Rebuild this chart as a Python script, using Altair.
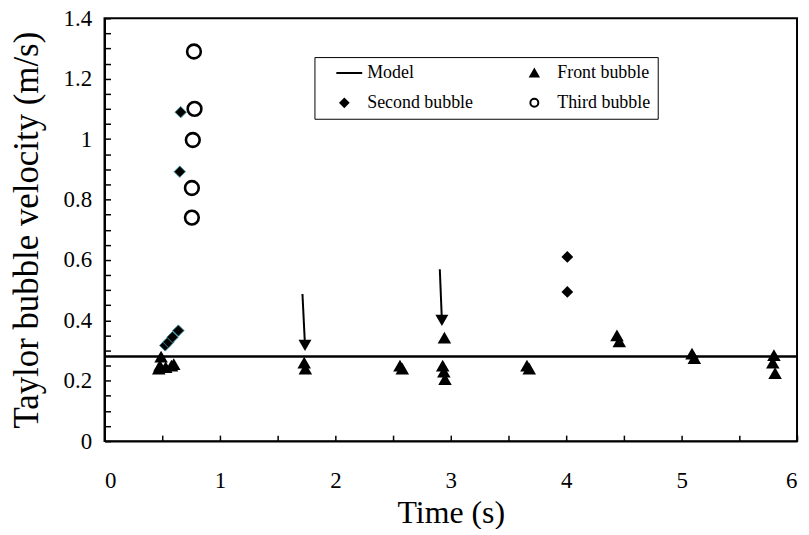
import altair as alt
import pandas as pd

# ---- data ----
series_names = ["Model", "Front bubble", "Second bubble", "Third bubble"]

model_velocity = [0.28]

front_time = [0.47, 0.48, 0.49, 0.53, 0.58, 0.60,
              1.73, 1.74,
              2.56, 2.58,
              2.93, 2.94, 2.95, 2.945,
              3.66, 3.68,
              4.44, 4.46,
              5.09, 5.11,
              5.79, 5.80, 5.81]
front_velocity = [0.24, 0.25, 0.28, 0.245, 0.25, 0.255,
                  0.26, 0.24,
                  0.25, 0.24,
                  0.25, 0.23, 0.205, 0.343,
                  0.25, 0.24,
                  0.35, 0.33,
                  0.29, 0.275,
                  0.26, 0.285, 0.225]

second_time_early = [0.526, 0.554, 0.589, 0.64, 0.652, 0.66]
second_velocity_early = [0.317, 0.328, 0.344, 0.366, 0.892, 1.089]

second_time_late = [4.01, 4.01]
second_velocity_late = [0.61, 0.494]

third_time = [0.775, 0.78, 0.765, 0.757, 0.757]
third_velocity = [1.29, 1.10, 0.997, 0.838, 0.74]

arrow_tail_time = [1.715, 2.905]
arrow_tail_velocity = [0.487, 0.569]
arrow_head_time = [1.737, 2.923]
arrow_head_velocity = [0.317, 0.40]

x_labels = [0, 1, 2, 3, 4, 5, 6]
x_ticks = [0, 0.5, 1, 1.5, 2, 2.5, 3, 3.5, 4, 4.5, 5, 5.5, 6]
y_labels = [0, 0.2, 0.4, 0.6, 0.8, 1, 1.2, 1.4]
y_ticks = [round(i * 0.05, 2) for i in range(29)]

# ---- tables ----
front_df = pd.DataFrame({"t": front_time, "v": front_velocity, "series": "Front bubble"})
second_a_df = pd.DataFrame({"t": second_time_early, "v": second_velocity_early, "series": "Second bubble"})
second_b_df = pd.DataFrame({"t": second_time_late, "v": second_velocity_late, "series": "Second bubble"})
third_df = pd.DataFrame({"t": third_time, "v": third_velocity, "series": "Third bubble"})
model_df = pd.DataFrame({"v": model_velocity})
arrow_df = pd.DataFrame({"t": arrow_tail_time, "v": arrow_tail_velocity,
                         "t2": arrow_head_time, "v2": arrow_head_velocity})

FONT = "Liberation Serif"
xs = alt.Scale(domain=[0, 6], nice=False, zero=False)
ys = alt.Scale(domain=[0, 1.4], nice=False, zero=False)

legend = alt.Legend(
    title=" ", titleOrient="left", titlePadding=14, titleFontSize=10,
    orient="none", legendX=211, legendY=39, direction="horizontal",
    columns=2, columnPadding=52, rowPadding=12, padding=7,
    strokeColor="black", fillColor="white",
    labelFont=FONT, labelFontSize=18, labelColor="black", labelOffset=14,
    symbolSize=64, symbolStrokeWidth=2, symbolStrokeColor="black",
)

shape_enc = alt.Shape("series:N", legend=legend,
                      scale=alt.Scale(domain=series_names,
                                      range=["M-2,0L4.5,0", "triangle-up", "diamond", "circle"]))
fill_enc = alt.Fill("series:N", legend=legend,
                    scale=alt.Scale(domain=series_names,
                                    range=["black", "black", "black", "white"]))
stroke_enc = alt.Stroke("series:N", legend=legend,
                        scale=alt.Scale(domain=series_names,
                                        range=["black", "black", "black", "black"]))

main_x = alt.Axis(orient="bottom", values=x_labels, format="d", ticks=False, tickSize=0,
                  domain=True, domainColor="black", domainWidth=2,
                  labelFont=FONT, labelFontSize=23, labelColor="black", labelPadding=29,
                  title="Time (s)", titleFont=FONT, titleFontSize=32, titleFontWeight="normal",
                  titleColor="black", titlePadding=5, grid=False)
main_y = alt.Axis(orient="left", values=y_labels, format="~g", ticks=False, tickSize=0,
                  domain=True, domainColor="black", domainWidth=2,
                  labelFont=FONT, labelFontSize=23, labelColor="black", labelPadding=13,
                  title="Taylor bubble velocity (m/s)", titleFont=FONT, titleFontSize=35,
                  titleFontWeight="normal", titleColor="black", titlePadding=19, grid=False)
tick_x = alt.Axis(orient="bottom", values=x_ticks, offset=-6, tickSize=6, ticks=True,
                  tickColor="black", tickWidth=1.5, labels=False, domain=False,
                  title=None, grid=False)
tick_y = alt.Axis(orient="left", values=y_ticks, offset=-6, tickSize=6, ticks=True,
                  tickColor="black", tickWidth=1.5, labels=False, domain=False,
                  title=None, grid=False)

model = alt.Chart(model_df).mark_rule(color="black", strokeWidth=2.5).encode(
    y=alt.Y("v:Q", scale=ys, axis=None)
)

front = alt.Chart(front_df).mark_point(size=185, opacity=1, strokeWidth=0).encode(
    x=alt.X("t:Q", scale=xs, axis=main_x),
    y=alt.Y("v:Q", scale=ys, axis=main_y),
    shape=shape_enc, fill=fill_enc, stroke=stroke_enc,
)

second_a = alt.Chart(second_a_df).mark_point(size=130, opacity=1, strokeWidth=1,
                                             stroke="#3a8896").encode(
    x=alt.X("t:Q", scale=xs, axis=tick_x),
    y=alt.Y("v:Q", scale=ys, axis=tick_y),
    shape=shape_enc,
    fill=alt.Fill("series:N", legend=legend,
                  scale=alt.Scale(domain=series_names,
                                  range=["black", "black", "black", "white"])),
)

second_b = alt.Chart(second_b_df).mark_point(size=140, opacity=1, strokeWidth=0).encode(
    x=alt.X("t:Q", scale=xs, axis=None),
    y=alt.Y("v:Q", scale=ys, axis=None),
    shape=shape_enc, fill=fill_enc,
)

third = alt.Chart(third_df).mark_point(size=190, opacity=1, strokeWidth=2.6).encode(
    x=alt.X("t:Q", scale=xs, axis=None),
    y=alt.Y("v:Q", scale=ys, axis=None),
    shape=shape_enc, fill=fill_enc, stroke=stroke_enc,
)

arrow_shaft = alt.Chart(arrow_df).mark_rule(color="black", strokeWidth=2).encode(
    x=alt.X("t:Q", scale=xs, axis=None), y=alt.Y("v:Q", scale=ys, axis=None),
    x2="t2:Q", y2="v2:Q",
)
arrow_head = alt.Chart(arrow_df).mark_point(shape="triangle-down", size=170, filled=True,
                                            color="black", opacity=1).encode(
    x=alt.X("t2:Q", scale=xs, axis=None), y=alt.Y("v2:Q", scale=ys, axis=None),
)

chart = alt.layer(model, front, second_a, second_b, third, arrow_shaft, arrow_head).resolve_axis(
    x="independent", y="independent"
).properties(
    width=696, height=425,
    autosize=alt.AutoSizeParams(type="none"),
    padding={"left": 97, "top": 9, "right": 4, "bottom": 87},
    background="white",
).configure_view(stroke="black", strokeWidth=2)

chart.save("out.html", embed_options={"renderer": "svg", "actions": False})
